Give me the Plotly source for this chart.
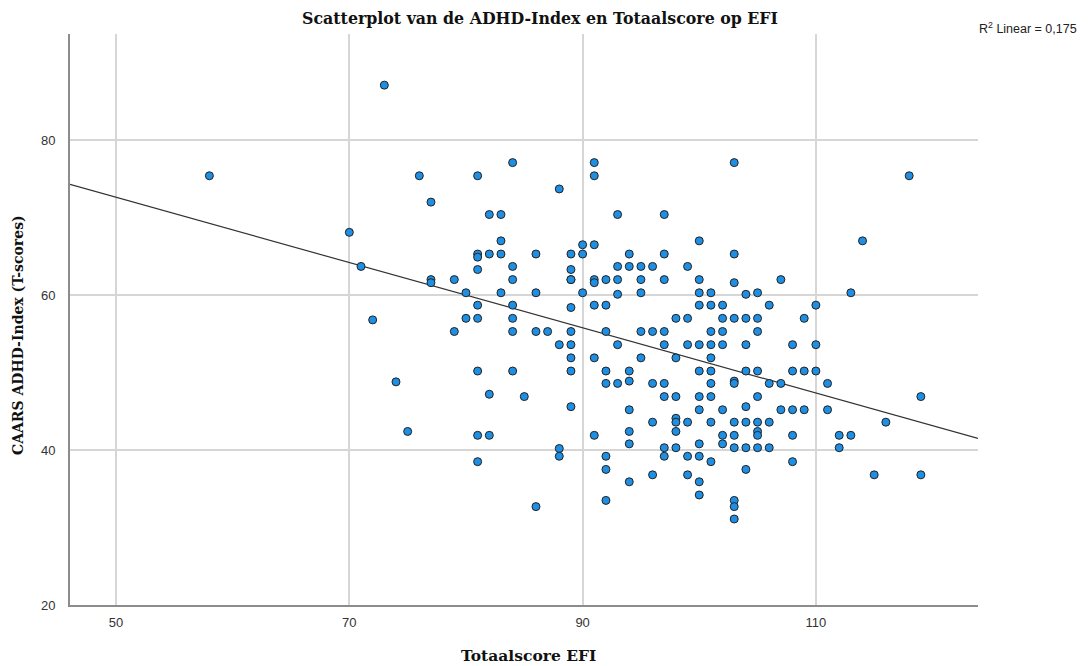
import plotly.graph_objects as go

# EFI total score (x) and CAARS ADHD-Index T-score (y), grouped by x
efi_groups = {
    58: [75.4],
    70: [68.1],
    71: [63.7],
    72: [56.8],
    73: [87.1],
    74: [48.8],
    75: [42.4],
    76: [75.4],
    77: [72.0, 62.0, 61.6],
    79: [62.0, 55.3],
    80: [60.3, 57.0],
    81: [75.4, 65.3, 64.9, 63.3, 58.7, 57.0, 50.2, 41.9, 38.5],
    82: [70.4, 65.3, 47.2, 41.9],
    83: [70.4, 67.0, 65.3, 60.3],
    84: [77.1, 63.7, 62.0, 58.7, 57.0, 55.3, 50.2],
    85: [46.9],
    86: [65.3, 60.3, 55.3, 32.7],
    87: [55.3],
    88: [73.7, 53.6, 40.2, 39.2],
    89: [65.3, 63.3, 62.0, 62.0, 58.4, 55.3, 53.6, 51.9, 50.2, 45.6],
    90: [66.5, 65.3, 60.3],
    91: [77.1, 75.4, 66.5, 62.0, 61.6, 58.7, 51.9, 41.9],
    92: [62.0, 58.7, 55.3, 50.2, 48.6, 39.2, 37.5, 33.5],
    93: [70.4, 63.7, 62.0, 60.1, 53.6, 48.6],
    94: [65.3, 63.7, 50.2, 48.9, 45.2, 42.4, 40.8, 35.9],
    95: [63.7, 62.0, 60.3, 55.3, 51.9],
    96: [63.7, 55.3, 48.6, 43.6, 36.8],
    97: [70.4, 65.3, 62.0, 55.3, 53.6, 48.6, 46.9, 40.3, 39.2],
    98: [57.0, 51.9, 46.9, 44.1, 43.6, 42.4, 40.3],
    99: [63.7, 57.0, 53.6, 43.6, 39.2, 36.8],
    100: [67.0, 62.0, 60.3, 58.7, 53.6, 50.2, 46.9, 45.2, 40.8, 39.2, 35.9, 34.2],
    101: [60.3, 58.7, 55.3, 53.6, 51.9, 50.2, 48.6, 46.9, 43.6, 38.5],
    102: [58.7, 57.0, 55.3, 53.6, 45.2, 41.9, 40.8],
    103: [77.1, 65.3, 61.6, 57.0, 48.9, 48.6, 43.6, 41.9, 40.3, 33.5, 32.7, 31.1],
    104: [60.1, 57.0, 53.6, 50.2, 45.6, 43.6, 40.3, 37.5],
    105: [60.3, 57.0, 55.3, 50.2, 46.9, 43.6, 42.4, 41.9, 40.3],
    106: [58.7, 48.6, 43.6, 40.3],
    107: [62.0, 48.6, 45.2],
    108: [53.6, 50.2, 45.2, 41.9, 38.5],
    109: [57.0, 50.2, 45.2],
    110: [58.7, 53.6, 50.2],
    111: [48.6, 45.2],
    112: [41.9, 40.3],
    113: [60.3, 41.9],
    114: [67.0],
    115: [36.8],
    116: [43.6],
    118: [75.4],
    119: [46.9, 36.8],
}

efi_scores = [x for x, ys in efi_groups.items() for _ in ys]
adhd_scores = [y for ys in efi_groups.values() for y in ys]

# fit line as shown (R^2 linear = 0,175)
line_intercept = 93.67
line_slope = -0.421
x_range = [46.05, 123.9]
y_range = [20, 93.7]
x_ticks = [50, 70, 90, 110]
y_ticks = [20, 40, 60, 80]

W, H = 1083, 658
L, R, T, B = 62, 113, 26, 61

fig = go.Figure()
fig.add_trace(go.Scatter(
    x=x_range,
    y=[line_intercept + line_slope * v for v in x_range],
    mode="lines", line=dict(color="#333333", width=1.2),
    hoverinfo="skip", showlegend=False,
))
fig.add_trace(go.Scatter(
    x=efi_scores, y=adhd_scores, mode="markers",
    marker=dict(size=8, color="#1f8fe3", line=dict(color="#222222", width=1)),
    showlegend=False,
))

serif = "DejaVu Serif, Liberation Serif, serif"
sans = "Liberation Sans, Arial, sans-serif"

fig.update_layout(
    width=W, height=H,
    margin=dict(l=L, r=R, t=T, b=B, autoexpand=False),
    paper_bgcolor="white", plot_bgcolor="white",
    title=dict(text="<b>Scatterplot van de ADHD-Index en Totaalscore op EFI</b>",
               x=532 / W, xanchor="center", y=1 - 10 / H, yanchor="middle",
               font=dict(family=serif, size=15.8, color="#111111")),
    xaxis=dict(range=x_range, tickvals=x_ticks, showgrid=True,
               gridcolor="#d6d6d6", gridwidth=2, zeroline=False,
               showline=True, linecolor="#8c8c8c", linewidth=2,
               ticks="", ticklabelstandoff=4, automargin=False,
               tickfont=dict(family=sans, size=13, color="#333333")),
    yaxis=dict(range=y_range, tickvals=y_ticks, showgrid=True,
               gridcolor="#d6d6d6", gridwidth=2, zeroline=False,
               showline=True, linecolor="#8c8c8c", linewidth=2,
               ticks="", ticklabelstandoff=10, automargin=False,
               tickfont=dict(family=sans, size=13, color="#333333")),
    annotations=[
        dict(text="<b>Totaalscore EFI</b>", xref="paper", yref="paper",
             x=(520 - L) / (W - L - R), y=0, xanchor="center", yanchor="middle",
             yshift=-50, showarrow=False,
             font=dict(family=serif, size=15.5, color="#111111")),
        dict(text="<b>CAARS ADHD-Index (T-scores)</b>", xref="paper", yref="paper",
             x=0, y=(H - B - 327) / (H - T - B), xanchor="center", yanchor="middle",
             xshift=10 - L, textangle=-90, showarrow=False,
             font=dict(family=serif, size=14, color="#111111")),
        dict(text="R<sup>2</sup> Linear = 0,175", xref="paper", yref="paper",
             x=1.0, y=1.0, xanchor="left", yanchor="middle", yshift=6, xshift=-1,
             showarrow=False, font=dict(family=sans, size=12.5, color="#222222")),
    ],
)

fig.write_html("out.html")
